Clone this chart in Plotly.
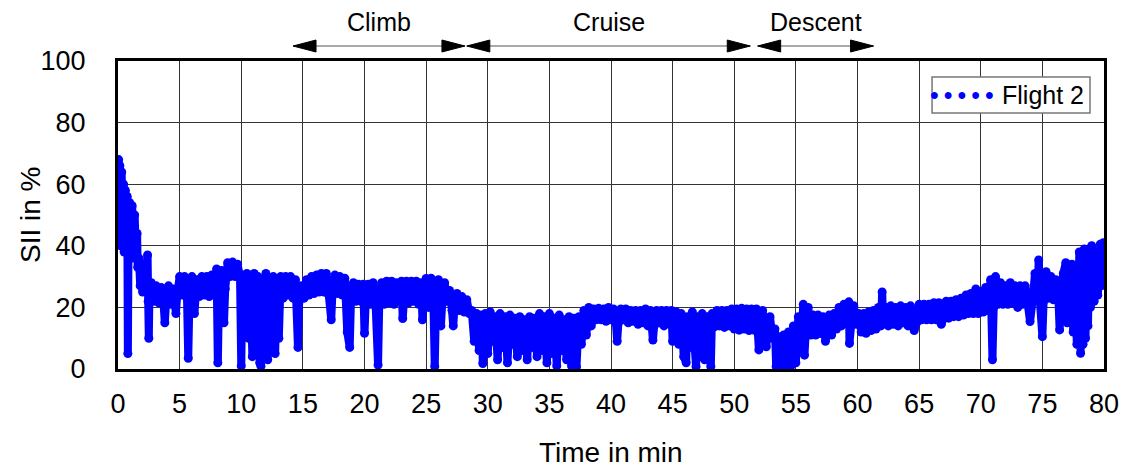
import plotly.graph_objects as go

# ---- data (time in min, SII in %) ----
t_takeoff = [0.05, 0.1, 0.15, 0.2, 0.3, 0.35, 0.45, 0.5, 0.6, 0.65, 0.75, 0.8, 0.85, 0.95, 1.05, 1.15, 1.25, 1.35, 1.45, 1.55, 1.6, 1.7, 1.8, 1.9, 2.0]
s_takeoff = [68, 45, 66, 40, 64, 42, 60, 38, 58, 40, 56, 5, 38, 54, 37, 53, 36, 50, 38, 44, 33, 36, 27, 31, 25]

t_early = [2.2, 2.4, 2.45, 2.5, 2.55, 2.7, 2.9, 3.1, 3.3, 3.5, 3.7, 3.8, 3.9, 4.1, 4.3, 4.5, 4.7, 4.8, 5.0,
           5.2, 5.4, 5.6, 5.7, 5.8, 6.0, 6.2, 6.4, 6.6, 6.8, 7.0, 7.2, 7.4, 7.6, 7.8, 8.0, 8.1, 8.2, 8.4, 8.6, 8.7,
           8.9, 9.1, 9.3, 9.5, 9.7, 9.9, 10.0, 10.1]
s_early = [29, 37, 22, 10, 24, 28, 22, 27, 21.5, 26.5, 21, 15, 22, 27, 21, 26, 18, 24, 30,
           24, 30, 23, 3.5, 24, 30, 18, 29, 23.5, 30, 24, 30, 23.5, 30.5, 24, 32.5, 2, 25, 32, 15, 26,
           34.5, 30, 34.7, 30, 34, 30, 1, 29]

t_climb = [10.3, 10.45, 10.6, 10.75, 10.9, 11.05, 11.2, 11.35, 11.5, 11.6, 11.7, 11.85, 12.0, 12.15, 12.3, 12.45,
           12.6, 12.75, 12.9, 13.05, 13.2, 13.4, 13.6, 13.8, 14.0, 14.2, 14.4, 14.6, 14.7, 14.9, 15.1, 15.3, 15.5,
           15.7, 15.9, 16.1, 16.3, 16.5, 16.7, 16.9, 17.1, 17.3, 17.4, 17.6, 17.8, 18.0, 18.2, 18.4, 18.6, 18.8,
           18.9, 19.1, 19.3, 19.5, 19.7, 19.9, 20.0, 20.1, 20.3, 20.5, 20.7, 20.9, 21.1, 21.2, 21.4, 21.6, 21.8,
           22.0, 22.2, 22.4, 22.6, 22.8, 23.0, 23.1, 23.2, 23.4, 23.6, 23.8, 24.0, 24.2, 24.4, 24.6, 24.7, 24.8,
           25.0, 25.2, 25.4, 25.6, 25.7, 25.8, 26.0, 26.2, 26.3, 26.5, 26.7, 26.9, 27.1, 27.2, 27.3, 27.5, 27.7,
           27.9, 28.1, 28.3, 28.5]
s_climb = [22, 31, 10, 30, 4, 31, 8, 30, 2, 0.9, 28, 6, 31, 3, 29, 9,
           30, 5, 29, 10, 30, 23, 30, 24, 30, 23, 29, 7, 22, 27, 23, 29, 24,
           30, 24.5, 30.5, 25, 31, 25, 31, 24, 16, 25, 30.5, 24.5, 30, 24, 29.5, 12, 7,
           22, 28, 22, 27.5, 22, 27.5, 11.6, 22, 27.5, 21, 28, 21, 1.3, 22, 28, 21, 28.5,
           21.5, 28.5, 21, 28, 22, 28.5, 16.4, 22, 28.5, 21.5, 28.5, 22, 28.5, 21, 28, 16, 21,
           29.4, 20, 29.5, 20, 0.8, 21, 29, 14, 21, 28, 22, 25.5, 19, 14, 20, 24.5, 19,
           23.5, 18.5, 22.5, 18]

t_cruise = [28.7, 28.9, 29.1, 29.3, 29.5, 29.6, 29.8, 30.0, 30.2, 30.4, 30.6, 30.8, 31.0, 31.2, 31.4, 31.6, 31.8,
            32.0, 32.2, 32.4, 32.6, 32.8, 33.0, 33.2, 33.4, 33.6, 33.8, 34.0, 34.2, 34.4, 34.6, 34.8, 35.0, 35.2,
            35.4, 35.6, 35.8, 36.0, 36.2, 36.4, 36.6, 36.8, 37.0, 37.2, 37.4, 37.6, 37.8, 38.0, 38.2, 38.4, 38.6,
            38.8, 39.0, 39.2, 39.4, 39.6, 39.8, 40.0, 40.2, 40.4, 40.5, 40.6, 40.8, 41.0, 41.2, 41.4, 41.6, 41.8,
            42.0, 42.2, 42.4, 42.6, 42.8, 43.0, 43.2, 43.4, 43.5, 43.7, 43.9, 44.1, 44.3, 44.5, 44.7, 44.9, 45.0,
            45.1, 45.3, 45.5, 45.7, 45.9, 46.1, 46.2, 46.4, 46.6, 46.9, 47.0, 47.2, 47.4, 47.6, 47.8, 48.0, 48.1,
            48.2, 48.4, 48.6, 48.8, 49.0, 49.2, 49.4, 49.6, 49.8, 50.0, 50.2, 50.4, 50.6, 50.8, 51.0, 51.2, 51.4,
            51.6, 51.8, 52.0, 52.1, 52.3, 52.6, 52.7, 52.9, 53.1, 53.3]
s_cruise = [19, 9, 18, 6, 17.5, 1.8, 18, 5, 18.5, 9, 17, 3, 18, 7, 17, 2, 17.5,
            8, 16.5, 4, 17, 6, 16, 3, 17, 7, 16.5, 4, 18, 6, 17, 2, 18, 5,
            16.5, 1, 17.5, 6, 16, 3, 17, 1, 16.5, 0.7, 17, 8, 19, 11, 20, 14, 19.5,
            16, 19.7, 16, 19.5, 15.5, 20, 16, 19.5, 15, 9, 15, 19.5, 16, 19.5, 15, 19, 15.5,
            19, 14.5, 19, 15, 19.5, 14, 19, 9.4, 14, 19, 15, 19, 14, 19, 15, 19, 9,
            14, 18.5, 8, 18, 4, 2, 17, 7, 18.5, 0.8, 17, 4, 18, 3, 17, 6, 0.8,
            18, 13.7, 19, 14, 19, 13.5, 19, 14, 19.5, 13, 19.5, 12.6, 19.7, 13, 19.5, 12.5, 19.5,
            12.6, 19.5, 6.2, 13, 19, 7.2, 12, 17, 10, 13]

t_descent = [53.4, 53.6, 53.8, 54.0, 54.2, 54.4, 54.6, 54.8, 55.0, 55.2, 55.4, 55.6, 55.7, 55.8, 56.0, 56.2, 56.4,
             56.6, 56.8, 57.0, 57.2, 57.4, 57.5, 57.7, 57.9, 58.1, 58.3, 58.5, 58.7, 58.9, 59.1, 59.3, 59.35, 59.5,
             59.7, 59.9, 60.1, 60.3, 60.5, 60.7, 60.9, 61.1, 61.3, 61.5]
s_descent = [0.8, 10.5, 1, 11, 0.5, 12, 1, 14, 2, 17, 6, 21, 4.5, 12, 20, 11, 17.5,
             11, 17.5, 11.5, 17, 9, 12, 17.5, 11, 18, 13, 20, 14, 21, 15, 21.8, 8.3, 15,
             20.5, 14.5, 18, 12, 18, 11.6, 18.5, 12.5, 19, 13]

t_approach = [61.7, 61.9, 62.0, 62.1, 62.3, 62.5, 62.7, 62.9, 63.1, 63.3, 63.5, 63.7, 63.9, 64.1, 64.3, 64.5, 64.6,
              64.8, 65.0, 65.2, 65.4, 65.6, 65.8, 66.0, 66.2, 66.4, 66.6, 66.8, 67.0, 67.2, 67.4, 67.6, 67.8, 68.0,
              68.2, 68.4, 68.6, 68.8, 69.0, 69.2, 69.4, 69.6, 69.8, 70.0, 70.2, 70.4, 70.6, 70.8, 70.95, 71.05,
              71.2, 71.4, 71.6, 71.8, 72.0, 72.2, 72.4, 72.6, 72.8, 73.0, 73.2, 73.4, 73.6, 73.8, 74.0, 74.2, 74.4,
              74.6, 74.7, 74.8, 75.0, 75.1, 75.3, 75.5, 75.7, 75.9, 76.1, 76.3, 76.4, 76.5, 76.7, 76.9, 77.0, 77.2,
              77.4, 77.5, 77.6, 77.8, 78.0, 78.1, 78.2, 78.3, 78.4, 78.5, 78.6, 78.7, 78.8, 78.9, 79.0, 79.2, 79.4,
              79.5, 79.7, 79.8, 79.95]
s_approach = [20, 14, 25, 15, 20, 14, 20.5, 14.5, 20, 14, 20.5, 15, 20, 14, 20.5, 14.5, 12.5,
              15, 21, 16, 21, 16, 21, 16, 21.5, 16, 21.5, 14.5, 16.5, 22, 16.5, 22, 17, 22.5,
              17, 23, 17.5, 24, 18, 24.5, 18, 26, 18, 25, 18.5, 26.5, 19, 29, 3, 20,
              30, 21, 28, 21, 27, 21, 28, 21.5, 27, 20, 27, 21, 27, 21.5, 15.4, 22, 31,
              22.5, 35.4, 22, 10.5, 22, 31.6, 23, 30, 22.5, 29, 23, 12.7, 22, 31, 34.5, 15, 23,
              34, 12, 30, 8, 38, 5.1, 36, 8, 39, 10, 37, 14, 39, 20, 40, 22, 38,
              24, 40.5, 27, 41]

phase_names = ["Climb", "Cruise", "Descent"]
phase_start = [14.2, 28.3, 51.9]
phase_end = [28.15, 51.3, 61.3]

x_ticks = list(range(0, 81, 5))
y_ticks = list(range(0, 101, 20))

t_all = t_takeoff + t_early + t_climb + t_cruise + t_descent + t_approach
s_all = s_takeoff + s_early + s_climb + s_cruise + s_descent + s_approach

BLUE = "rgb(0,0,255)"
FONT = "Arial, Liberation Sans, sans-serif"

fig = go.Figure()
fig.add_trace(go.Scatter(
    x=t_all, y=s_all, mode="lines+markers",
    line=dict(color=BLUE, width=8, simplify=False),
    marker=dict(color=BLUE, size=9),
    name="Flight 2", showlegend=False, hoverinfo="x+y",
))

annotations = []
shapes = []
ARROW_Y = 1.0487
LABEL_Y = 1.1266
HEAD_L, HEAD_W = 23, 6
for name, a, b in zip(phase_names, phase_start, phase_end):
    mid = (a + b) / 2
    shapes.append(dict(type="line", xref="x", yref="paper", x0=a, x1=b, y0=ARROW_Y, y1=ARROW_Y,
                       line=dict(color="#555", width=1)))
    for end, sign in ((a, 1), (b, -1)):
        shapes.append(dict(
            type="path", xref="x", yref="paper", xsizemode="pixel", ysizemode="pixel",
            xanchor=end, yanchor=ARROW_Y,
            path=f"M0,0 L{sign * HEAD_L},{HEAD_W} L{sign * HEAD_L},{-HEAD_W} Z",
            fillcolor="black", line=dict(color="black", width=1),
        ))
    annotations.append(dict(
        x=mid, y=LABEL_Y, xref="x", yref="paper", text=name,
        xanchor="center", yanchor="middle",
        showarrow=False, font=dict(family=FONT, size=25, color="black"),
    ))

# legend box
shapes.append(dict(type="rect", xref="paper", yref="paper", x0=0.8256, x1=0.9858, y0=0.831, y1=0.948,
                   line=dict(color="#777", width=1.5), fillcolor="white", layer="above"))
annotations.append(dict(
    x=68.48, y=0.8896, xref="x", yref="paper", text="\u2022\u2009\u2022\u2009\u2022\u2009\u2022\u2009\u2022",
    xanchor="center", yanchor="middle",
    showarrow=False, font=dict(family=FONT, size=25, color=BLUE),
))
annotations.append(dict(
    x=71.55, y=0.8896, xref="x", yref="paper", xanchor="left", yanchor="middle", text="Flight 2",
    showarrow=False, font=dict(family=FONT, size=25, color="black"),
))

# axis titles
annotations.append(dict(
    x=0.5, y=-0.2727, xref="paper", yref="paper", text="Time in min",
    xanchor="center", yanchor="middle",
    showarrow=False, font=dict(family=FONT, size=28, color="black"),
))
annotations.append(dict(
    x=-0.0892, y=0.5, xref="paper", yref="paper", text="SII in %", textangle=-90,
    xanchor="center", yanchor="middle",
    showarrow=False, font=dict(family=FONT, size=28, color="black"),
))

fig.update_layout(
    width=1127, height=470,
    margin=dict(l=118, r=23, t=61, b=101, autoexpand=False),
    paper_bgcolor="white", plot_bgcolor="white",
    font=dict(family=FONT, color="black"),
    annotations=annotations, shapes=shapes,
    showlegend=False,
)
fig.update_xaxes(
    range=[0, 80], tickvals=x_ticks, ticktext=[str(v) for v in x_ticks],
    showgrid=True, gridcolor="#333", gridwidth=1,
    showline=True, linecolor="black", linewidth=3, mirror=True,
    ticks="", tickfont=dict(size=27, family=FONT), ticklabelstandoff=9,
    automargin=False, zeroline=False,
)
fig.update_yaxes(
    range=[0, 100], tickvals=y_ticks, ticktext=[str(v) for v in y_ticks],
    showgrid=True, gridcolor="#333", gridwidth=1,
    showline=True, linecolor="black", linewidth=3, mirror=True,
    ticks="", tickfont=dict(size=27, family=FONT), ticklabelstandoff=24,
    automargin=False, zeroline=False,
)

fig.write_html(
    "out.html",
    config={"displayModeBar": False},
    post_script="document.body.style.margin='0px';document.body.style.overflow='hidden';",
)
